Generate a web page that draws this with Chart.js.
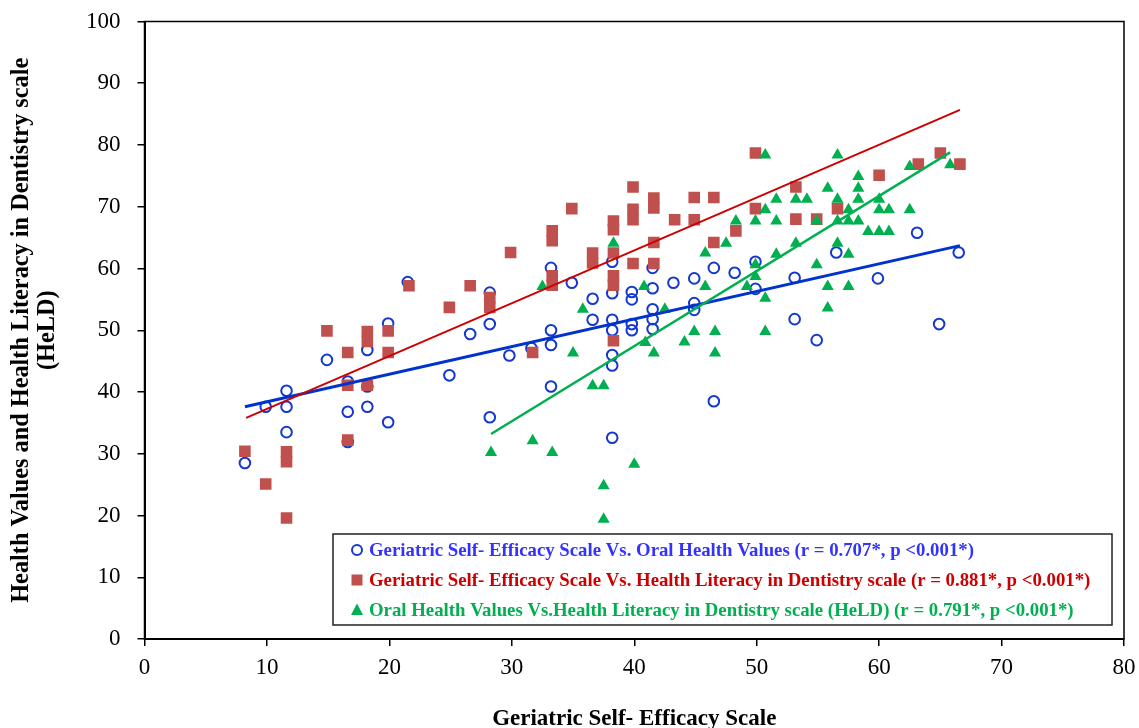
<!DOCTYPE html>
<html>
<head>
<meta charset="utf-8">
<script src="https://cdn.jsdelivr.net/npm/chart.js@4.4.0/dist/chart.umd.min.js"></script>
<style>
  html, body { margin: 0; padding: 0; background: #fff; }
  #wrap { width: 1139px; height: 728px; position: relative; }
</style>
</head>
<body>
<div id="wrap"><canvas id="scatterChart"></canvas></div>
<script>
// Geriatric Self- Efficacy Scale Vs. Oral Health Values
var gseOhvX = [8.2, 9.9, 11.6, 11.6, 11.6, 14.9, 16.6, 16.6, 16.6, 18.2, 18.2, 18.2, 19.9, 19.9, 21.5,
  24.9, 26.6, 28.2, 28.2, 28.2, 29.8, 31.6, 33.2, 33.2, 33.2, 33.2, 34.9, 36.6, 36.6,
  38.2, 38.2, 38.2, 38.2, 38.2, 38.2, 38.2, 39.8, 39.8, 39.8, 39.8, 41.5, 41.5, 41.5, 41.5, 41.5,
  43.2, 44.9, 44.9, 44.9, 46.5, 46.5, 48.2, 49.9, 49.9, 53.1, 53.1, 54.9, 56.5, 59.9, 63.1, 64.9, 66.5];
var gseOhvY = [28.5, 37.6, 40.2, 37.6, 33.5, 45.2, 41.7, 36.8, 31.9, 46.8, 40.9, 37.6, 51.1, 35.1, 57.8,
  42.7, 49.4, 56.1, 51.0, 35.9, 45.9, 47.1, 60.1, 50.0, 47.6, 40.9, 57.7, 55.1, 51.7,
  61.1, 56.0, 51.7, 50.0, 46.0, 44.3, 32.6, 56.2, 55.0, 51.0, 50.0, 60.1, 56.8, 53.4, 51.8, 50.2,
  57.7, 58.4, 54.4, 53.3, 60.1, 38.5, 59.3, 61.1, 56.7, 58.5, 51.8, 48.4, 62.6, 58.4, 65.8, 51.0, 62.6];

// Geriatric Self- Efficacy Scale Vs. Health Literacy in Dentistry scale
var gseHeldX = [8.2, 9.9, 11.6, 11.6, 11.6, 14.9, 16.6, 16.6, 16.6, 18.2, 18.2, 18.2, 19.9, 19.9, 21.6,
  24.9, 26.6, 28.2, 28.2, 29.9, 31.7, 33.3, 33.3, 33.3, 33.3, 34.9, 36.6, 36.6,
  38.3, 38.3, 38.3, 38.3, 38.3, 38.3, 39.9, 39.9, 39.9, 39.9, 41.6, 41.6, 41.6, 41.6,
  43.3, 44.9, 44.9, 46.5, 46.5, 48.3, 49.9, 49.9, 53.2, 53.2, 54.9, 56.6, 60.0, 63.2, 65.0, 66.6];
var gseHeldY = [30.4, 25.1, 30.3, 28.7, 19.6, 49.9, 46.4, 41.1, 32.2, 49.8, 48.2, 41.1, 49.9, 46.4, 57.2,
  53.7, 57.2, 55.3, 53.7, 62.6, 46.4, 66.1, 64.5, 58.8, 57.3, 69.7, 62.5, 60.9,
  67.7, 66.3, 62.5, 58.8, 57.3, 48.3, 73.2, 69.6, 67.9, 60.8, 71.4, 69.8, 64.2, 60.8,
  67.9, 71.5, 67.9, 71.5, 64.2, 66.1, 78.7, 69.7, 73.2, 68.0, 68.0, 69.7, 75.1, 76.9, 78.7, 76.9];

// Oral Health Values Vs. Health Literacy in Dentistry scale (HeLD)
var ohvHeldX = [28.3, 31.7, 32.5, 33.3, 35.0, 35.8, 36.6, 37.5, 37.5, 37.5, 38.3, 40.0, 40.8, 40.9,
  41.6, 42.5, 44.1, 44.9, 45.8, 45.8, 46.6, 46.6, 47.5, 48.3, 49.2, 49.9, 49.9, 49.9,
  50.7, 50.7, 50.7, 50.7, 51.6, 51.6, 51.6, 53.2, 53.2, 54.1, 54.9, 54.9, 55.8, 55.8, 55.8,
  56.6, 56.6, 56.6, 56.6, 57.5, 57.5, 57.5, 57.5, 58.3, 58.3, 58.3, 58.3, 59.1,
  60.0, 60.0, 60.0, 60.8, 60.8, 62.5, 62.5, 65.8];
var ohvHeldY = [30.2, 32.1, 57.1, 30.2, 46.3, 53.4, 41.0, 41.0, 24.8, 19.4, 64.1, 28.3, 57.1, 48.0,
  46.3, 53.4, 48.1, 49.8, 62.5, 57.1, 49.8, 46.3, 64.1, 67.7, 57.1, 67.7, 60.6, 58.7,
  78.4, 69.5, 55.2, 49.8, 71.2, 67.7, 62.3, 71.2, 64.1, 71.2, 67.7, 60.6, 73.0, 57.1, 53.6,
  78.4, 71.2, 67.7, 64.1, 69.5, 67.7, 62.3, 57.1, 74.9, 73.0, 71.2, 67.7, 66.0,
  71.2, 69.5, 66.0, 69.5, 66.0, 69.5, 76.5, 76.8];

// trend line end points
var gseOhvTrendX = [8.2, 66.6];
var gseOhvTrendY = [37.6, 63.7];
var gseHeldTrendX = [8.3, 66.6];
var gseHeldTrendY = [35.8, 85.7];
var ohvHeldTrendX = [28.3, 65.8];
var ohvHeldTrendY = [33.2, 78.8];

var xTicks = [0, 10, 20, 30, 40, 50, 60, 70, 80];
var yTicks = [0, 10, 20, 30, 40, 50, 60, 70, 80, 90, 100];

var legendLabels = [
  "Geriatric Self- Efficacy Scale Vs. Oral Health Values (r = 0.707*, p <0.001*)",
  "Geriatric Self- Efficacy Scale Vs. Health Literacy in Dentistry scale (r = 0.881*, p <0.001*)",
  "Oral Health Values Vs.Health Literacy in Dentistry scale (HeLD) (r = 0.791*, p <0.001*)"
];

function toPoints(xs, ys) {
  return xs.map(function (x, i) { return { x: x, y: ys[i] }; });
}

var serif = "'Liberation Serif', 'Times New Roman', serif";

// black frame round the plot area
var framePlugin = {
  id: "frame",
  afterDraw: function (chart) {
    var a = chart.chartArea, ctx = chart.ctx;
    ctx.save();
    ctx.strokeStyle = "#000";
    ctx.lineWidth = 1.5;
    ctx.strokeRect(a.left, a.top, a.right - a.left, a.bottom - a.top);
    ctx.restore();
  }
};

// legend box in the lower right of the plot
var boxLegendPlugin = {
  id: "boxLegend",
  afterDraw: function (chart) {
    var ctx = chart.ctx;
    var left = 333, top = 534, width = 779, height = 91;
    var rows = [550, 580, 610];
    var markerX = 357, textX = 369;
    var textColors = ["#3333FF", "#CC0000", "#00B050"];
    ctx.save();
    ctx.fillStyle = "#fff";
    ctx.fillRect(left, top, width, height);
    ctx.strokeStyle = "#222";
    ctx.lineWidth = 1.5;
    ctx.strokeRect(left, top, width, height);

    // circle
    ctx.beginPath();
    ctx.arc(markerX, rows[0], 5, 0, Math.PI * 2);
    ctx.strokeStyle = "#1539CF";
    ctx.lineWidth = 2;
    ctx.stroke();
    // square
    ctx.fillStyle = "#C0504D";
    ctx.fillRect(markerX - 5.5, rows[1] - 5.5, 11, 11);
    // triangle
    ctx.beginPath();
    ctx.moveTo(markerX, rows[2] - 6.5);
    ctx.lineTo(markerX + 6, rows[2] + 5);
    ctx.lineTo(markerX - 6, rows[2] + 5);
    ctx.closePath();
    ctx.fillStyle = "#00B050";
    ctx.fill();

    ctx.font = "bold 18.8px " + serif;
    ctx.textBaseline = "middle";
    ctx.textAlign = "left";
    legendLabels.forEach(function (t, i) {
      ctx.fillStyle = textColors[i];
      ctx.fillText(t, textX, rows[i] + 1);
    });
    ctx.restore();
  }
};

var ctx = document.getElementById("scatterChart").getContext("2d");
new Chart(ctx, {
  type: "scatter",
  data: {
    datasets: [
      {
        label: legendLabels[0],
        data: toPoints(gseOhvX, gseOhvY),
        pointStyle: "circle",
        pointRadius: 5.3,
        pointBorderWidth: 2,
        pointBorderColor: "#1539CF",
        pointBackgroundColor: "rgba(255,255,255,0)",
        order: 6
      },
      {
        label: legendLabels[1],
        data: toPoints(gseHeldX, gseHeldY),
        pointStyle: "rect",
        pointRadius: 8.2,
        pointBorderWidth: 0,
        pointBackgroundColor: "#C0504D",
        order: 5
      },
      {
        label: legendLabels[2],
        data: toPoints(ohvHeldX, ohvHeldY),
        pointStyle: "triangle",
        pointRadius: 7,
        pointBorderWidth: 0,
        pointBackgroundColor: "#00B050",
        order: 4
      },
      {
        label: "trend 1",
        data: toPoints(gseOhvTrendX, gseOhvTrendY),
        showLine: true,
        pointRadius: 0,
        borderColor: "#0033CC",
        borderWidth: 3,
        order: 3
      },
      {
        label: "trend 2",
        data: toPoints(gseHeldTrendX, gseHeldTrendY),
        showLine: true,
        pointRadius: 0,
        borderColor: "#CC0000",
        borderWidth: 2,
        order: 2
      },
      {
        label: "trend 3",
        data: toPoints(ohvHeldTrendX, ohvHeldTrendY),
        showLine: true,
        pointRadius: 0,
        borderColor: "#00B050",
        borderWidth: 2.5,
        order: 1
      }
    ]
  },
  options: {
    responsive: true,
    maintainAspectRatio: false,
    animation: false,
    events: [],
    layout: { padding: { top: 21.5, right: 15, left: 0, bottom: 0 } },
    plugins: {
      legend: { display: false },
      tooltip: { enabled: false }
    },
    scales: {
      x: {
        type: "linear",
        min: xTicks[0],
        max: xTicks[xTicks.length - 1],
        afterBuildTicks: function (scale) {
          scale.ticks = xTicks.map(function (v) { return { value: v }; });
        },
        afterFit: function (scale) {
          scale.height = 89;
          scale.paddingLeft = 0;
          scale.paddingRight = 0;
        },
        ticks: { color: "#000", font: { family: serif, size: 23 }, padding: 8, maxRotation: 0 },
        grid: { drawOnChartArea: false, drawTicks: true, tickLength: 7, color: "#000", lineWidth: 1.5 },
        border: { color: "#000", width: 2 },
        title: {
          display: true,
          text: "Geriatric Self- Efficacy Scale",
          color: "#000",
          font: { family: serif, size: 23, weight: "bold", lineHeight: 1.1 },
          padding: { top: 0, bottom: -4 }
        }
      },
      y: {
        type: "linear",
        min: yTicks[0],
        max: yTicks[yTicks.length - 1],
        afterBuildTicks: function (scale) {
          scale.ticks = yTicks.map(function (v) { return { value: v }; });
        },
        afterFit: function (scale) {
          scale.width = 144.5;
          scale.paddingTop = 0;
          scale.paddingBottom = 0;
        },
        ticks: { color: "#000", font: { family: serif, size: 23 }, padding: 17 },
        grid: { drawOnChartArea: false, drawTicks: true, tickLength: 7, color: "#000", lineWidth: 1.5 },
        border: { color: "#000", width: 2 },
        title: {
          display: true,
          text: ["Health Values and Health Literacy in Dentistry scale", "(HeLD)"],
          color: "#000",
          font: { family: serif, size: 24.3, weight: "bold", lineHeight: 1.07 },
          padding: { top: 9, bottom: 0 }
        }
      }
    }
  },
  plugins: [framePlugin, boxLegendPlugin]
});
</script>
</body>
</html>
